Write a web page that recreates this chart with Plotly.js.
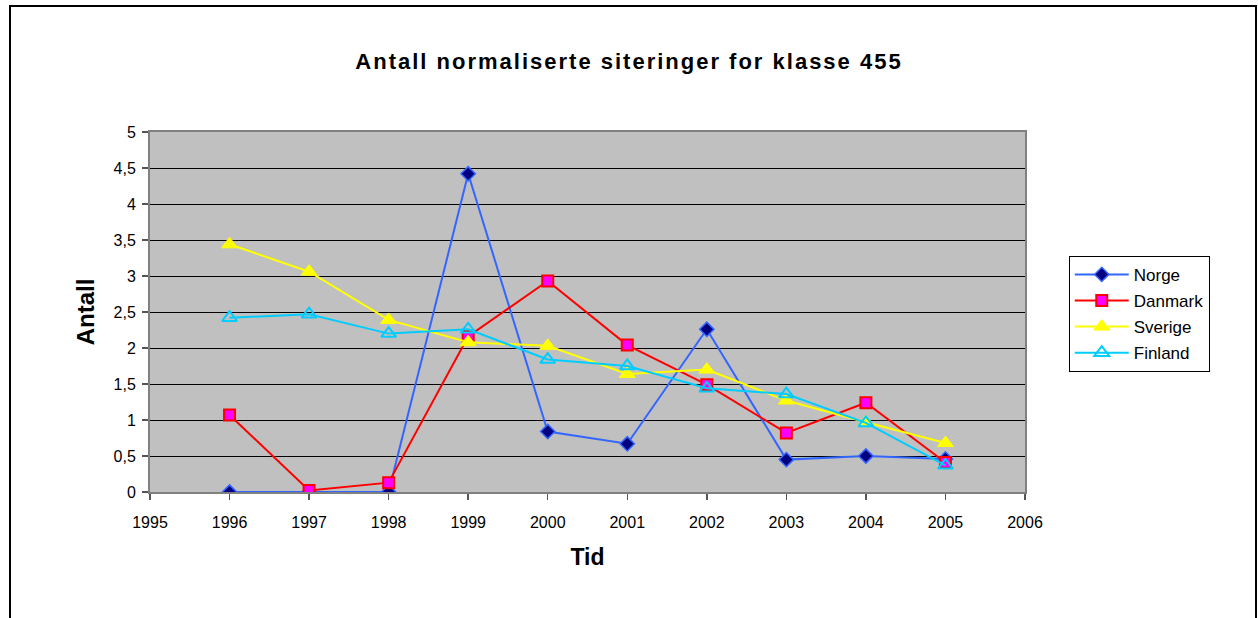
<!DOCTYPE html>
<html>
<head>
<meta charset="utf-8">
<script src="https://cdn.plot.ly/plotly-3.0.1.min.js"></script>
<style>
  html, body { margin: 0; padding: 0; background: #ffffff; }
  #chart { position: absolute; left: 0; top: 0; width: 1258px; height: 618px; }
  #frame { position: absolute; left: 9px; top: 5px; width: 1248px; height: 700px;
           border: 2px solid #000; pointer-events: none; box-sizing: border-box; }
  #chart .gtitle { letter-spacing: 2px; }
</style>
</head>
<body>
<div id="chart"></div>
<div id="frame"></div>
<script>
const years = [1996, 1997, 1998, 1999, 2000, 2001, 2002, 2003, 2004, 2005];
const norge   = [0, 0, 0, 4.42, 0.84, 0.67, 2.26, 0.45, 0.50, 0.46];
const danmark = [1.07, 0.02, 0.13, 2.16, 2.93, 2.04, 1.49, 0.82, 1.24, 0.41];
const sverige = [3.44, 3.06, 2.39, 2.08, 2.03, 1.64, 1.70, 1.27, 0.97, 0.68];
const finland = [2.42, 2.47, 2.20, 2.26, 1.84, 1.75, 1.44, 1.36, 0.96, 0.37];
const xTicks = [1995, 1996, 1997, 1998, 1999, 2000, 2001, 2002, 2003, 2004, 2005, 2006];
const yTicks = [0, 0.5, 1, 1.5, 2, 2.5, 3, 3.5, 4, 4.5, 5];
const yTickText = ['0', '0,5', '1', '1,5', '2', '2,5', '3', '3,5', '4', '4,5', '5'];

const font = 'Liberation Sans, Arial, sans-serif';

const traces = [
  { name: 'Norge', y: norge, line: { color: '#3366FF', width: 2 },
    marker: { symbol: 'diamond', size: 11, color: '#000080', line: { color: '#3366FF', width: 1.5 } } },
  { name: 'Danmark', y: danmark, line: { color: '#FF0000', width: 2 },
    marker: { symbol: 'square', size: 11, color: '#FF00FF', line: { color: '#FF0000', width: 2 } } },
  { name: 'Sverige', y: sverige, line: { color: '#FFFF00', width: 2 },
    marker: { symbol: 'triangle-up', size: 14, color: '#FFFF00', line: { color: '#FFFF00', width: 1 } } },
  { name: 'Finland', y: finland, line: { color: '#00CCFF', width: 2 },
    marker: { symbol: 'triangle-up-open', size: 13, color: '#00CCFF', line: { color: '#00CCFF', width: 2 } } }
].map(t => Object.assign({ type: 'scatter', mode: 'lines+markers', x: years, legendgroup: t.name }, t));

const layout = {
  width: 1258, height: 618,
  margin: { l: 150, r: 233, t: 132, b: 126, pad: 0 },
  paper_bgcolor: '#ffffff',
  plot_bgcolor: '#C0C0C0',
  font: { family: font, size: 16, color: '#000' },
  title: { text: '<b>Antall normaliserte siteringer for klasse 455</b>',
           font: { family: font, size: 22, color: '#000' },
           x: 0.5, xref: 'container', y: 0.901, yref: 'container', yanchor: 'middle' },
  xaxis: {
    range: [1995, 2006], tickvals: xTicks, ticktext: xTicks.map(String),
    showgrid: false, zeroline: false,
    showline: true, linecolor: '#808080', linewidth: 2, mirror: true,
    ticks: 'outside', ticklen: 6, tickcolor: '#555', tickwidth: 1.5,
    ticklabelstandoff: 9,
    tickfont: { family: font, size: 16 },
    title: { text: '<b>Tid</b>', font: { family: font, size: 23 }, standoff: 19 }
  },
  yaxis: {
    range: [0, 5], tickvals: yTicks, ticktext: yTickText,
    showgrid: true, gridcolor: '#000000', gridwidth: 1, zeroline: false,
    showline: true, linecolor: '#808080', linewidth: 2, mirror: true,
    ticks: 'outside', ticklen: 6, tickcolor: '#555', tickwidth: 1.5,
    ticklabelstandoff: 3,
    tickfont: { family: font, size: 16 },
    title: { text: '<b>Antall</b>', font: { family: font, size: 24 }, standoff: 12 }
  },
  legend: {
    x: 1.05, xanchor: 'left', y: 0.656, yanchor: 'top',
    bgcolor: '#ffffff', bordercolor: '#000000', borderwidth: 1,
    font: { family: font, size: 17 },
    traceorder: 'grouped', tracegroupgap: 1, itemwidth: 54
  },
  showlegend: true
};

Plotly.newPlot('chart', traces, layout, { displayModeBar: false, staticPlot: true });
</script>
</body>
</html>
